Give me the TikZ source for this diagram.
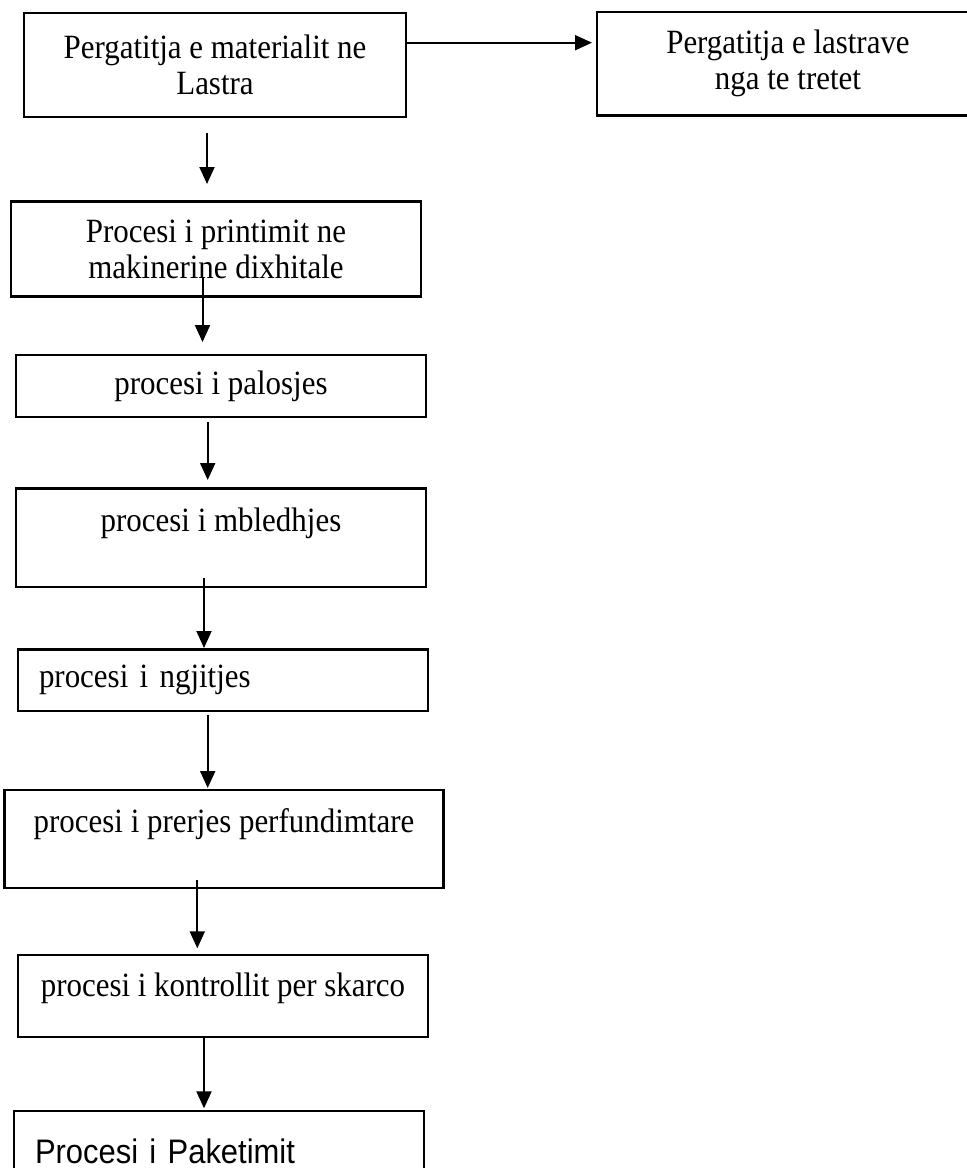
\documentclass[tikz,border=0pt]{standalone}
\usepackage{fontspec}
\setmainfont{Liberation Serif}[FakeStretch=0.91]
\setsansfont{Liberation Sans}[FakeStretch=0.91]
\usetikzlibrary{arrows.meta}

\begin{document}
\begin{tikzpicture}[x=1pt, y=-1pt,
        stepbox/.style={draw, rectangle, line width=2.4pt, inner sep=0pt, outer sep=0pt,
                align=center, font=\fontsize{34}{36}\selectfont},
        leftbox/.style={stepbox, inner xsep=21pt, text width=368pt, align=left},
        arr/.style={-{Triangle[width=15pt,length=17pt]}, line width=2pt}]
        \useasboundingbox (0,0) rectangle (967,1168);
        \clip (0,0) rectangle (967,1168);
        \draw   (215,64.7) node [stepbox, minimum width=382pt, minimum height=104pt] (b1) {Pergatitja e materialit ne\\Lastra}
                (788,63.7) node [stepbox, minimum width=382pt, minimum height=103.5pt] (b2) {Pergatitja e lastrave\\nga te tretet}
                (216,249) node [stepbox, minimum width=410pt, minimum height=95pt] (b3) {Procesi i printimit ne\\makinerine dixhitale}
                (221,386) node [stepbox, minimum width=410pt, minimum height=61.5pt] (b4) {procesi i palosjes}
                (221,537.5) node [stepbox, minimum width=410pt, minimum height=98.4pt] (b5) {procesi i mbledhjes\\\mbox{}}
                (223,680) node [leftbox, minimum height=61.4pt] (b6) {procesi i ngjitjes}
                (224,839) node [stepbox, minimum width=439pt, minimum height=98.4pt] (b7) {procesi i prerjes perfundimtare\\\mbox{}}
                (223,996) node [stepbox, minimum width=410pt, minimum height=82pt] (b8) {procesi i kontrollit per skarco\\[-14pt]\mbox{}}
                (219,1151) node [leftbox, minimum height=80pt, font=\sffamily\fontsize{34}{36}\selectfont] (b9) {Procesi i Paketimit}

                ([yshift=22pt]b1.east) edge [arr, shorten >=5pt] ([yshift=21pt]b2.west)
                ([xshift=-8pt]b1.south) edge [arr, shorten <=16.3pt, shorten >=17.5pt] ([xshift=-9pt]b3.north)
                ([xshift=-13.5pt]b3.south) edge [arr, shorten <=-19.5pt, shorten >=13.2pt] ([xshift=-18.5pt]b4.north)
                ([xshift=-13.3pt]b4.south) edge [arr, shorten <=5.3pt, shorten >=8.3pt] ([xshift=-13.3pt]b5.north)
                ([xshift=-17pt]b5.south) edge [arr, shorten <=-8.7pt, shorten >=1.3pt] ([xshift=-19pt]b6.north)
                ([xshift=-15.3pt]b6.south) edge [arr, shorten <=4.3pt, shorten >=1.8pt] ([xshift=-16.3pt]b7.north)
                ([xshift=-26.7pt]b7.south) edge [arr, shorten <=-8.2pt, shorten >=6.7pt] ([xshift=-25.7pt]b8.north)
                ([xshift=-19pt]b8.south) edge [arr, shorten >=2.7pt] ([xshift=-15pt]b9.north)
                ;
\end{tikzpicture}
\end{document}
